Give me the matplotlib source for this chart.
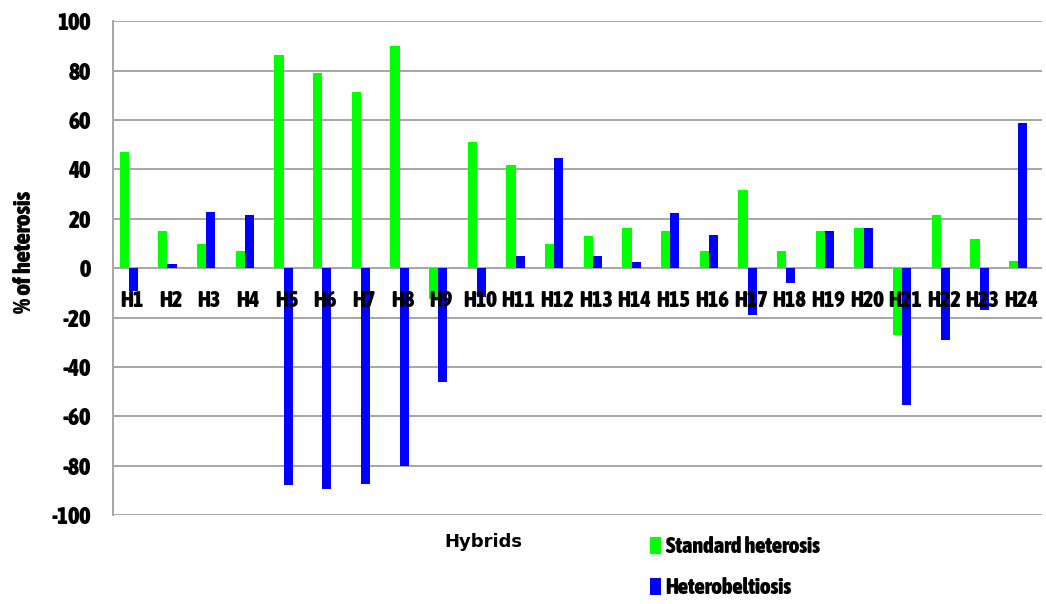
"""Standard heterosis and heterobeltiosis of 24 hybrids."""

import matplotlib

matplotlib.use("Agg")

from matplotlib import font_manager
from matplotlib import pyplot as plt
import numpy as np

HYBRIDS = [f"H{number}" for number in range(1, 25)]
STANDARD_HETEROSIS = [
    47.0, 15.0, 9.9, 6.8, 86.2, 79.1, 71.3, 89.9, -12.4, 51.0, 41.9, 9.9,
    13.0, 16.1, 15.0, 6.8, 31.5, 6.8, 15.0, 16.1, -27.2, 21.7, 11.9, 3.1,
]
HETEROBELTIOSIS = [
    -9.3, 1.5, 22.8, 21.7, -87.7, -89.3, -87.2, -80.0, -45.9, -11.5, 5.1, 44.4,
    5.1, 2.6, 22.3, 13.5, -18.9, -6.1, 15.0, 16.1, -55.2, -28.9, -16.8, 58.9,
]
SERIES_NAMES = ["Standard heterosis", "Heterobeltiosis"]
Y_TICKS = list(range(-100, 101, 20))
Y_TICK_LABELS = [str(tick) for tick in Y_TICKS]

COLOR_GREEN = "#00ff00"
COLOR_BLUE = "#0000ff"
COLOR_GRID = "#a6a6a6"
COLOR_TEXT = "#000000"

BAR_WIDTH = 0.235


def narrow_bold_font(size: float) -> font_manager.FontProperties:
    """Pick a bold condensed face if one is installed, else a plain bold sans."""
    candidates = []
    for entry in font_manager.fontManager.ttflist:
        is_bold = entry.weight in ("bold", 700, 600, "semibold", "demibold") or (
            isinstance(entry.weight, int) and entry.weight >= 600
        )
        name = entry.name.lower()
        is_narrow = (
            "narrow" in name
            or "condensed" in name
            or "condensed" in str(entry.stretch)
        )
        if is_bold and is_narrow and entry.style == "normal":
            candidates.append(entry)
    if candidates:
        candidates.sort(key=lambda entry: ("liberation" not in entry.name.lower(), entry.name))
        return font_manager.FontProperties(fname=candidates[0].fname, size=size)
    return font_manager.FontProperties(family="Liberation Sans", weight="bold", size=size * 0.82)


category_font = narrow_bold_font(16)
tick_font = narrow_bold_font(17)
ylabel_font = narrow_bold_font(17.5)
legend_font = narrow_bold_font(16)

figure = plt.figure(figsize=(10.46, 6.04), dpi=100)
axis = figure.add_axes([0.108, 0.147, 0.888, 0.818])

positions = np.arange(len(HYBRIDS))
green_bars = axis.bar(
    positions - BAR_WIDTH / 2,
    STANDARD_HETEROSIS,
    width=BAR_WIDTH,
    color=COLOR_GREEN,
    zorder=3,
)
blue_bars = axis.bar(
    positions + BAR_WIDTH / 2,
    HETEROBELTIOSIS,
    width=BAR_WIDTH,
    color=COLOR_BLUE,
    zorder=3,
)

# category names sit just under the zero line, over the bars
for position, name in zip(positions, HYBRIDS):
    axis.text(
        position + 0.08,
        -13.3,
        name,
        ha="center",
        va="center",
        fontproperties=category_font,
        color=COLOR_TEXT,
        zorder=5,
    )

axis.set_xlim(-0.41, 23.61)
axis.set_ylim(-100, 100)
axis.set_xticks([])
axis.set_yticks(Y_TICKS, labels=Y_TICK_LABELS, fontproperties=tick_font)
axis.tick_params(axis="y", length=0, pad=16)

axis.grid(axis="y", color=COLOR_GRID, linewidth=1.4, zorder=0)
axis.set_axisbelow(True)
for side in ["top", "right", "bottom"]:
    axis.spines[side].set_visible(False)
axis.spines["left"].set_color(COLOR_GRID)
axis.spines["left"].set_linewidth(1.4)

axis.set_ylabel("% of heterosis", fontproperties=ylabel_font)
axis.yaxis.set_label_coords(-0.083, 0.532)
figure.text(
    483 / 1046,
    1 - 542 / 604,
    "Hybrids",
    ha="center",
    va="center",
    fontsize=13,
    fontweight="bold",
    family="DejaVu Sans",
)

figure.legend(
    handles=[green_bars, blue_bars],
    labels=SERIES_NAMES,
    loc="upper left",
    bbox_to_anchor=(650 / 1046, 1 - 536 / 604),
    frameon=False,
    borderpad=0,
    borderaxespad=0,
    handlelength=0.5,
    handleheight=0.82,
    handletextpad=0.2,
    labelspacing=0.85,
    prop=legend_font,
)

figure.savefig("out.png", dpi=100, facecolor="white")
